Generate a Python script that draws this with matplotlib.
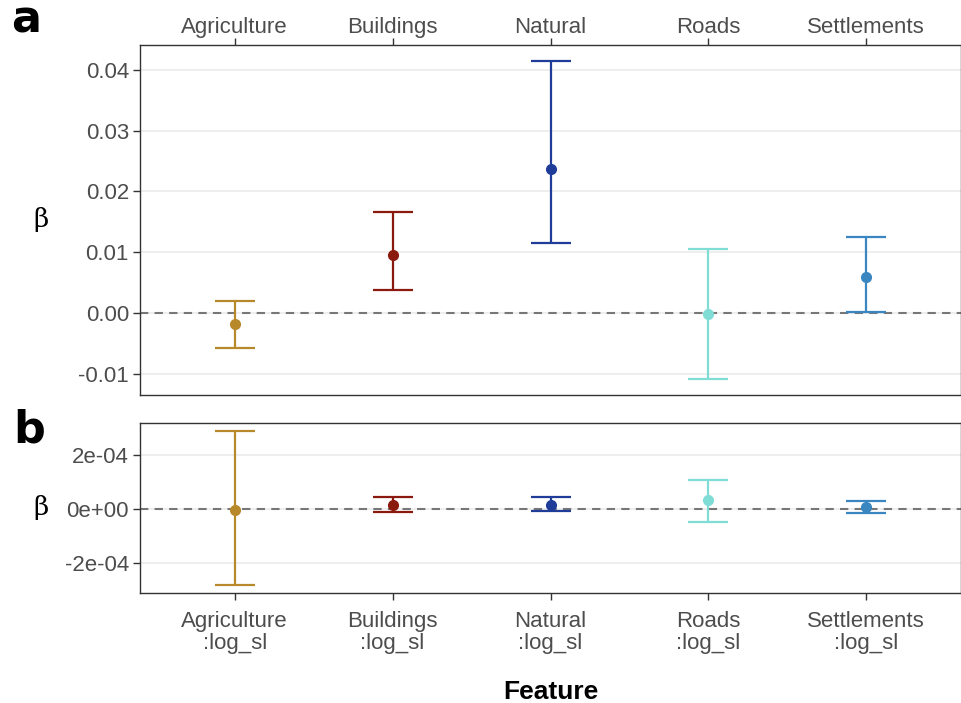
import matplotlib.pyplot as plt
import numpy as np

plt.rcParams["font.family"] = ["Liberation Sans", "DejaVu Sans"]

FEATURES = ["Agriculture", "Buildings", "Natural", "Roads", "Settlements"]
COLORS = ["#B8892A", "#8B1A0E", "#1F3C99", "#7FDDD6", "#3A86C0"]

# panel a: main effects
BETA_A = [-0.0018, 0.0095, 0.0237, -0.0002, 0.0059]
LOW_A = [-0.0058, 0.0038, 0.0115, -0.0109, 0.0002]
HIGH_A = [0.0020, 0.0166, 0.0415, 0.0105, 0.0125]

# panel b: interaction with log_sl
BETA_B = [-0.05e-4, 0.15e-4, 0.15e-4, 0.33e-4, 0.07e-4]
LOW_B = [-2.81e-4, -0.11e-4, -0.07e-4, -0.48e-4, -0.15e-4]
HIGH_B = [2.89e-4, 0.44e-4, 0.44e-4, 1.07e-4, 0.30e-4]

TICKS_A = [-0.01, 0.0, 0.01, 0.02, 0.03, 0.04]
TICKLABELS_A = ["-0.01", "0.00", "0.01", "0.02", "0.03", "0.04"]
TICKS_B = [-2e-4, 0.0, 2e-4]
TICKLABELS_B = ["-2e-04", "0e+00", "2e-04"]

W, H = 962, 703
fig = plt.figure(figsize=(W / 100, H / 100), dpi=100)

def ax_rect(x0, y0, x1, y1):
    return [x0 / W, 1 - y1 / H, (x1 - x0) / W, (y1 - y0) / H]

ax_a = fig.add_axes(ax_rect(140, 45, 961, 395))
ax_b = fig.add_axes(ax_rect(140, 423, 961, 593))

x = np.arange(len(FEATURES))


def draw(ax, beta, low, high):
    for i in range(len(FEATURES)):
        ax.errorbar(x[i], beta[i],
                    yerr=[[beta[i] - low[i]], [high[i] - beta[i]]],
                    fmt="o", color=COLORS[i], ecolor=COLORS[i],
                    elinewidth=1.6, capthick=1.6, capsize=14.5,
                    markersize=7, zorder=3)
    ax.axhline(0, color="#777777", linestyle=(0, (4, 3)), linewidth=1.5, zorder=2)
    ax.set_xlim(-0.6, 4.6)
    ax.grid(axis="y", color="#EBEBEB", linewidth=1.2, zorder=0)
    ax.set_axisbelow(True)
    for s in ax.spines.values():
        s.set_color("#333333")
        s.set_linewidth(1.0)
    ax.tick_params(colors="#333333", labelcolor="#4D4D4D", labelsize=16,
                   length=5, width=1.0, pad=3)
    ax.set_ylabel("β", rotation=0, fontsize=19, family="DejaVu Serif",
                  va="center", ha="center")
    ax.yaxis.set_label_coords(-0.12, 0.5)


draw(ax_a, BETA_A, LOW_A, HIGH_A)
ax_a.set_ylim(-0.0135, 0.0441)
ax_a.set_yticks(TICKS_A)
ax_a.set_yticklabels(TICKLABELS_A)
ax_a.set_xticks(x)
ax_a.set_xticklabels(FEATURES)
ax_a.xaxis.tick_top()
ax_a.tick_params(axis="x", pad=0)

draw(ax_b, BETA_B, LOW_B, HIGH_B)
ax_b.set_ylim(-3.11e-4, 3.19e-4)
ax_b.set_yticks(TICKS_B)
ax_b.set_yticklabels(TICKLABELS_B)
ax_b.set_xticks(x)
ax_b.set_xticklabels([f"{f}\n:log_sl" for f in FEATURES], linespacing=1.05)
ax_b.tick_params(axis="x", pad=8)
ax_b.set_xlabel("Feature", fontsize=19, fontweight="bold", labelpad=19)

fig.text(11 / W, 1 - 20 / H, "a", fontsize=32, fontweight="bold",
         family="DejaVu Sans", va="center", ha="left")
fig.text(13 / W, 1 - 430 / H, "b", fontsize=32, fontweight="bold",
         family="DejaVu Sans", va="center", ha="left")

fig.savefig("out.png", dpi=100)
